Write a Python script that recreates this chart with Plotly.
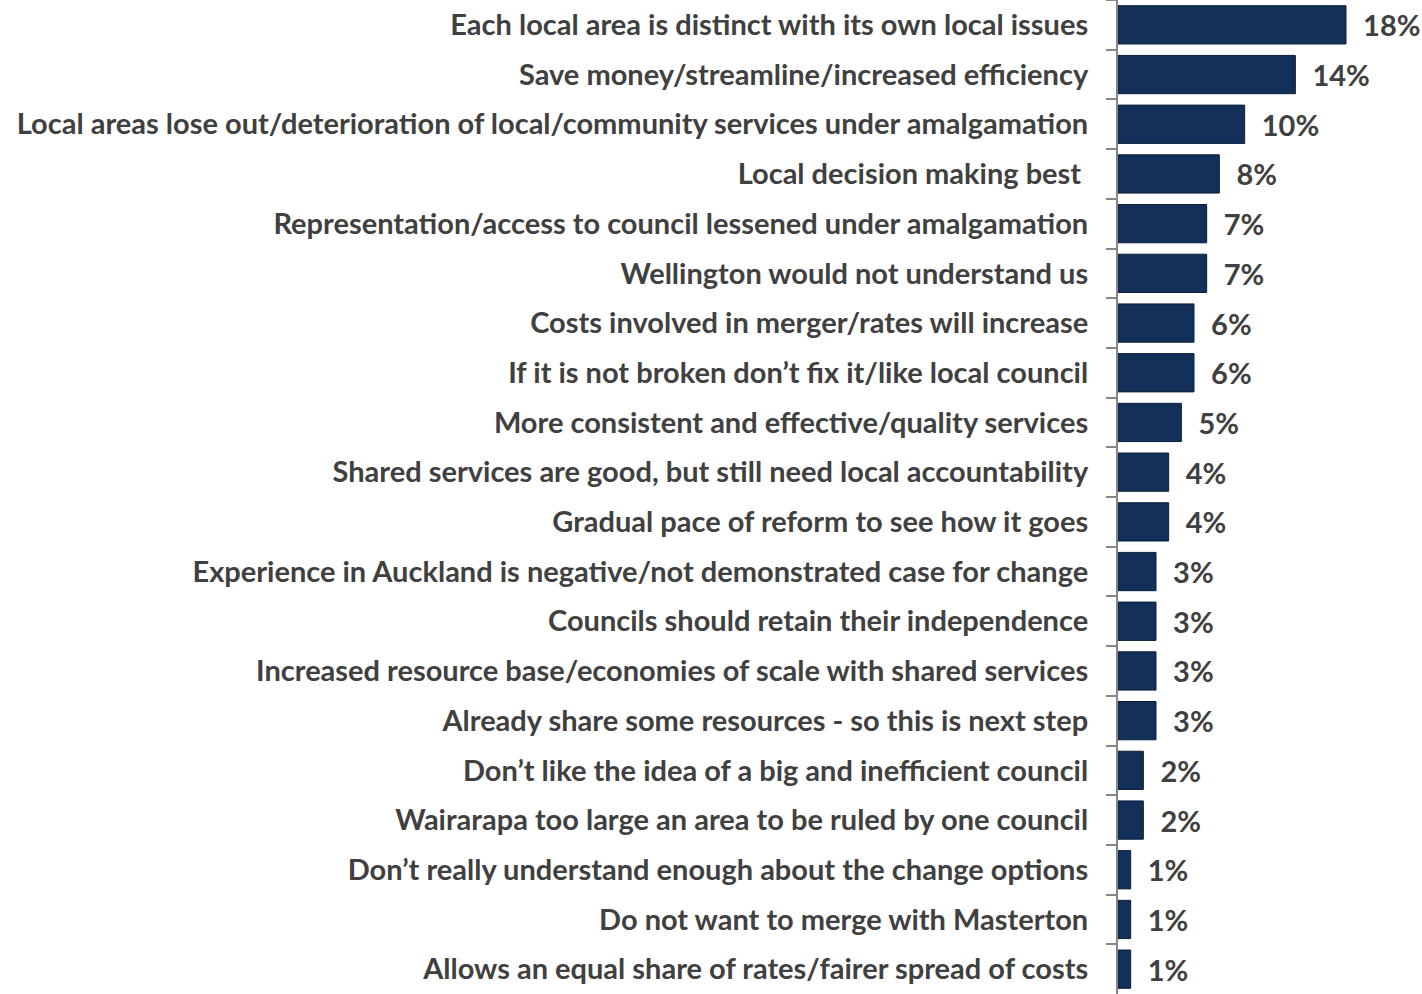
import plotly.graph_objects as go

# Reasons given, in display order (top to bottom)
reasons = [
    "Each local area is distinct with its own local issues",
    "Save money/streamline/increased efficiency",
    "Local areas lose out/deterioration of local/community services under amalgamation",
    "Local decision making best\u00a0",
    "Representation/access to council lessened under amalgamation",
    "Wellington would not understand us",
    "Costs involved in merger/rates will increase",
    "If it is not broken don\u2019t fix it/like local council",
    "More consistent and effective/quality services",
    "Shared services are good, but still need local accountability",
    "Gradual pace of reform to see how it goes",
    "Experience in Auckland is negative/not demonstrated case for change",
    "Councils should retain their independence",
    "Increased resource base/economies of scale with shared services",
    "Already share some resources - so this is next step",
    "Don\u2019t like the idea of a big and inefficient council",
    "Wairarapa too large an area to be ruled by one council",
    "Don\u2019t really understand enough about the change options",
    "Do not want to merge with Masterton",
    "Allows an equal share of rates/fairer spread of costs",
]
percent = [18, 14, 10, 8, 7, 7, 6, 6, 5, 4, 4, 3, 3, 3, 3, 2, 2, 1, 1, 1]

FONT = "Lato"
TEXT_COLOR = "#404040"
LABEL_FONT = dict(family=FONT, size=29, color=TEXT_COLOR, weight="bold")

fig = go.Figure(
    go.Bar(
        x=percent,
        y=reasons,
        orientation="h",
        marker=dict(color="#12305a", line=dict(color="#0b1d38", width=1)),
        text=[f"  {v}%" for v in percent],
        textposition="outside",
        textfont=LABEL_FONT,
        cliponaxis=False,
        width=0.77,
    )
)

fig.update_layout(
    width=1422,
    height=994,
    margin=dict(l=1118, r=0, t=0, b=0),
    plot_bgcolor="white",
    paper_bgcolor="white",
    showlegend=False,
    font=LABEL_FONT,
)

fig.update_xaxes(range=[0, 24], visible=False)
fig.update_yaxes(
    type="category",
    autorange="reversed",
    showline=True,
    linecolor="#868686",
    linewidth=2,
    ticks="outside",
    tickson="boundaries",
    ticklen=10,
    tickwidth=2,
    tickcolor="#868686",
    ticklabelstandoff=22,
    showgrid=False,
    tickfont=LABEL_FONT,
)

fig.write_html("out.html")
